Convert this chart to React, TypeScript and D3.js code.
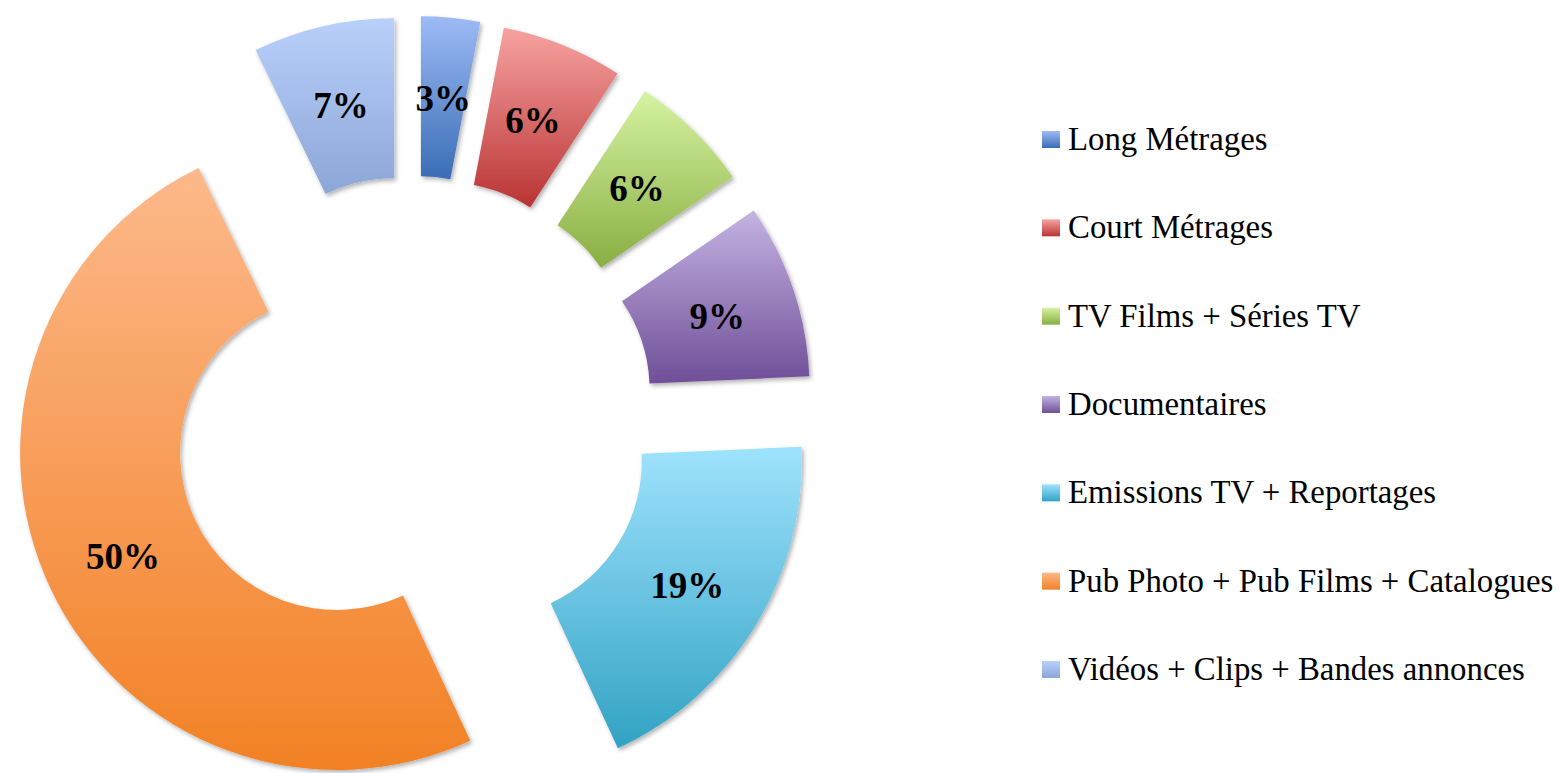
import React from "react";
import * as d3 from "d3";

const categories = [
  "Long Métrages",
  "Court Métrages",
  "TV Films + Séries TV",
  "Documentaires",
  "Emissions TV + Reportages",
  "Pub Photo + Pub Films + Catalogues",
  "Vidéos + Clips + Bandes annonces",
];
const values = [3.0, 6.2, 6.2, 8.9, 18.8, 49.7, 7.2];
const labels = ["3%", "6%", "6%", "9%", "19%", "50%", "7%"];
const topColors = ["#9dbbf5", "#f7a3a1", "#d6f3a2", "#c4b3e2", "#9fe3fe", "#fdb98b", "#b9d0fb"];
const bottomColors = ["#3a6db5", "#b93333", "#89ae42", "#6f4f98", "#32a2c3", "#f28125", "#8ca6d6"];

const W = 1561;
const H = 773;
const CX = 413;
const CY = 417;
const R_OUT = 317;
const R_IN = 157;
const EXPLODE = 84;

export default function App() {
  const pie = d3
    .pie<number>()
    .sort(null)
    .value((d) => d)
    .startAngle(0)
    .endAngle(2 * Math.PI);
  const arcs = pie(values);
  const arc = d3.arc<d3.PieArcDatum<number>>().innerRadius(R_IN).outerRadius(R_OUT);

  const legendY = d3.scaleLinear().domain([0, categories.length - 1]).range([131, 131 + 88.33 * 6]);

  return (
    <svg
      width={W}
      height={H}
      style={{ position: "absolute", left: 0, top: 0, background: "#fff" }}
    >
      <defs>
        {categories.map((c, i) => (
          <linearGradient key={c} id={`g${i}`} x1="0" y1="0" x2="0" y2="1">
            <stop offset="0%" stopColor={topColors[i]} />
            <stop offset="100%" stopColor={bottomColors[i]} />
          </linearGradient>
        ))}
        <filter id="shadow" x="-10%" y="-10%" width="130%" height="130%">
          <feDropShadow dx="2" dy="2.5" stdDeviation="2" floodColor="#000" floodOpacity="0.3" />
        </filter>
      </defs>
      {arcs.map((a, i) => {
        const mid = (a.startAngle + a.endAngle) / 2;
        const ox = CX + EXPLODE * Math.sin(mid);
        const oy = CY - EXPLODE * Math.cos(mid);
        const [lx, ly] = arc.centroid(a);
        return (
          <g key={i} transform={`translate(${ox},${oy})`}>
            <path d={arc(a) || ""} fill={`url(#g${i})`} filter="url(#shadow)" />
            <text
              x={lx}
              y={ly}
              dy="0.38em"
              textAnchor="middle"
              fontFamily="'Liberation Serif', serif"
              fontWeight="bold"
              fontSize={37}
              fill="#000"
            >
              {labels[i]}
            </text>
          </g>
        );
      })}
      {categories.map((c, i) => (
        <g key={c}>
          <rect x={1042} y={legendY(i)} width={18} height={17} fill={`url(#g${i})`} />
          <text
            x={1068}
            y={legendY(i) + 19}
            fontFamily="'Liberation Serif', serif"
            fontSize={32.8}
            fill="#000"
          >
            {c}
          </text>
        </g>
      ))}
    </svg>
  );
}
